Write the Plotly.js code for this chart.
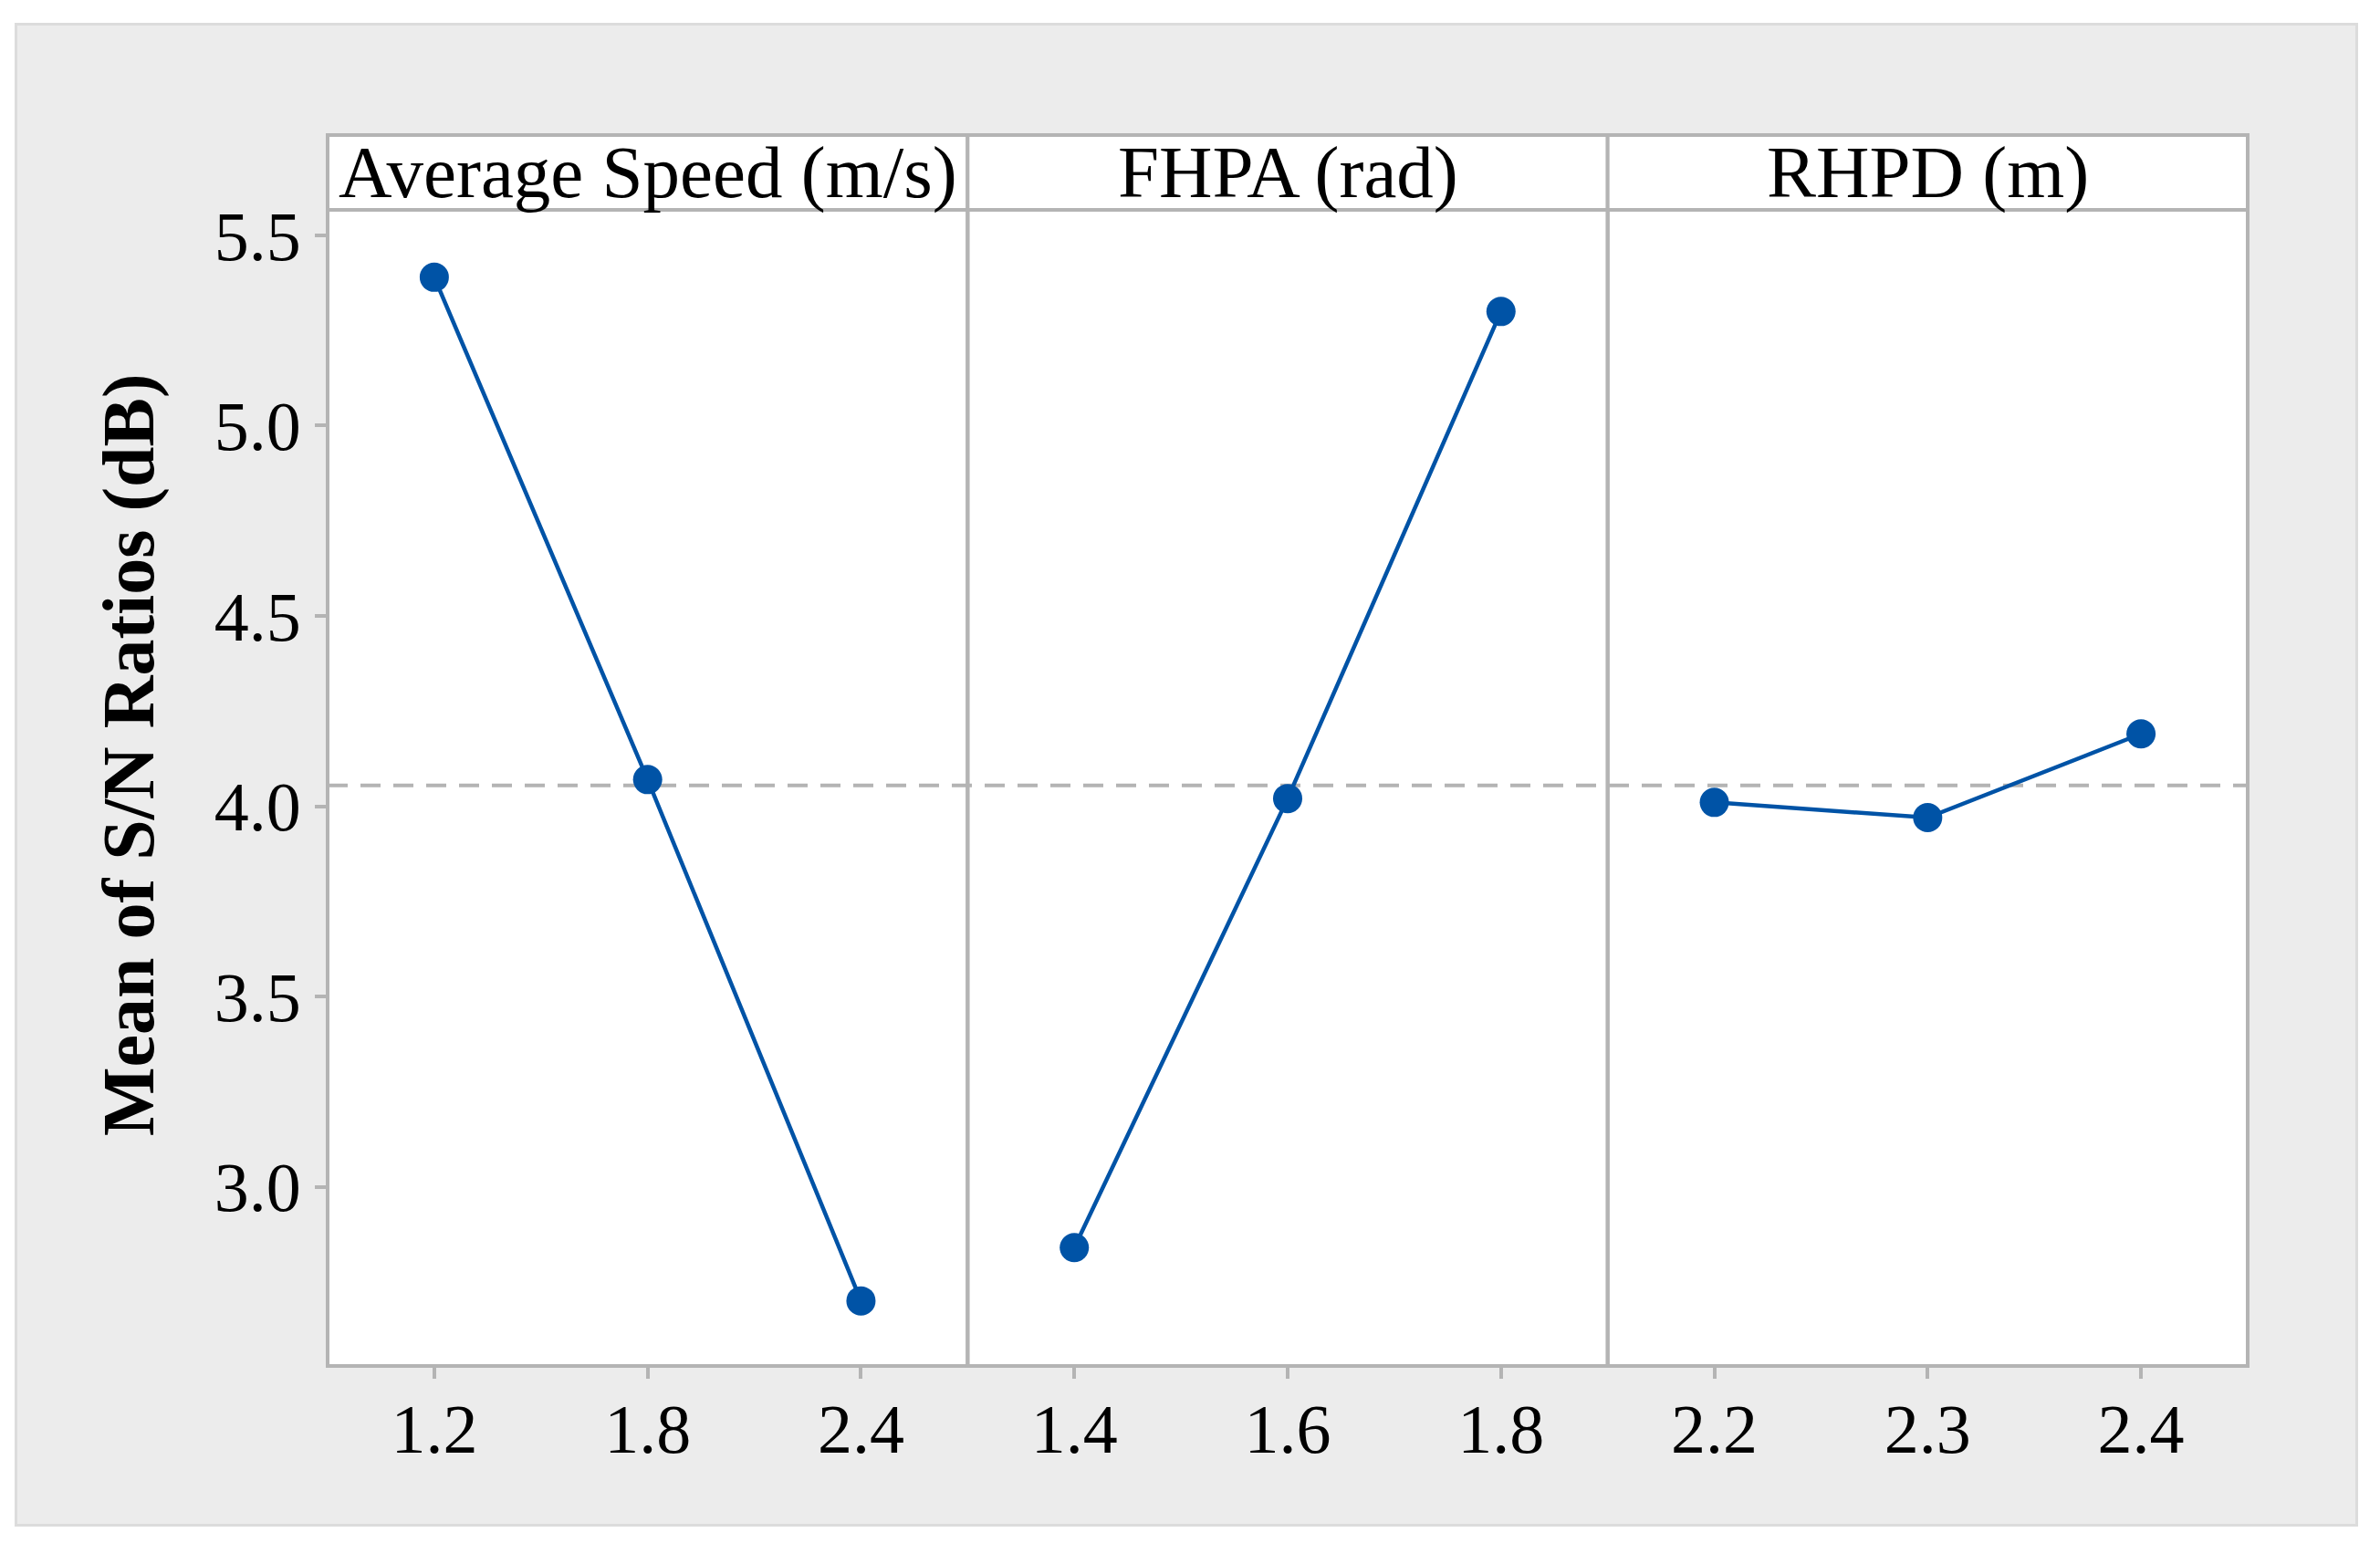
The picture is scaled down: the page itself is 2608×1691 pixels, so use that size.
<!DOCTYPE html>
<html>
<head>
<meta charset="utf-8">
<script src="https://cdn.plot.ly/plotly-3.0.1.min.js"></script>
<style>html,body{margin:0;padding:0;background:#ffffff;}</style>
</head>
<body>
<div id="chart" style="width:2608px;height:1691px;"></div>
<script>
// ---- data ----
const factorNames = ['Average Speed (m/s)', 'FHPA (rad)', 'RHPD (m)'];
const speedLevels = ['1.2', '1.8', '2.4'];
const speedSN = [5.39, 4.07, 2.70];
const fhpaLevels = ['1.4', '1.6', '1.8'];
const fhpaSN = [2.84, 4.02, 5.30];
const rhpdLevels = ['2.2', '2.3', '2.4'];
const rhpdSN = [4.01, 3.97, 4.19];
const yTickVals = [3.0, 3.5, 4.0, 4.5, 5.0, 5.5];
const yTickText = ['3.0', '3.5', '4.0', '4.5', '5.0', '5.5'];
const yAxisTitle = 'Mean of S/N Ratios (dB)';

// ---- styling / geometry ----
const W = 2608, H = 1691;
const M = {l: 359, r: 145, t: 148, b: 194};
const plotW = W - M.l - M.r, plotH = H - M.t - M.b;
const px2x = p => (p - M.l) / plotW;
const py2y = p => (H - M.b - p) / plotH;
const headerTop = 1.0;
const dataTop = py2y(230);
const FONT = '"Liberation Serif", "Times New Roman", serif';
const BLUE = '#0053a6';
const GRAY = '#b4b4b4';

const allVals = speedSN.concat(fhpaSN, rhpdSN);
const grandMean = allVals.reduce((a, b) => a + b, 0) / allVals.length;

const series = [[speedLevels, speedSN], [fhpaLevels, fhpaSN], [rhpdLevels, rhpdSN]];
const axisIds = ['x', 'x2', 'x3'];

const traces = series.map((s, i) => ({
  type: 'scatter', mode: 'lines+markers',
  x: s[0], y: s[1],
  xaxis: axisIds[i], yaxis: 'y',
  line: {color: BLUE, width: 4.5},
  marker: {color: BLUE, size: 32, line: {width: 0}},
  hoverinfo: 'x+y'
}));

function xAxis(i) {
  return {
    domain: [i / 3, (i + 1) / 3], anchor: 'y', type: 'category',
    range: [-0.5, 2.5], showgrid: false, zeroline: false, showline: false,
    ticks: 'outside', ticklen: 13, tickwidth: 4, tickcolor: GRAY,
    ticklabelstandoff: -10,
    tickfont: {family: FONT, size: 76, color: '#000'}, fixedrange: true
  };
}

const shapes = [
  // white outer margin
  {type: 'rect', xref: 'paper', yref: 'paper', x0: px2x(-9), x1: px2x(2609), y0: py2y(1698), y1: py2y(0),
   line: {color: '#ffffff', width: 50}, fillcolor: 'rgba(0,0,0,0)', layer: 'below'},
  // light frame
  {type: 'rect', xref: 'paper', yref: 'paper', x0: px2x(17.5), x1: px2x(2582.5), y0: py2y(1671.5), y1: py2y(26.5),
   line: {color: '#dcdcdc', width: 3}, fillcolor: 'rgba(0,0,0,0)', layer: 'below'},
  // mean reference line
  {type: 'line', xref: 'paper', yref: 'y', x0: 0, x1: 1, y0: grandMean, y1: grandMean,
   line: {color: GRAY, width: 4, dash: '22px,14px'}, layer: 'below'}
];
for (let i = 0; i < 3; i++) {
  shapes.push({type: 'rect', xref: 'paper', yref: 'paper', x0: i / 3, x1: (i + 1) / 3, y0: 0, y1: dataTop,
    line: {color: GRAY, width: 4}, fillcolor: 'rgba(0,0,0,0)', layer: 'above'});
  shapes.push({type: 'rect', xref: 'paper', yref: 'paper', x0: i / 3, x1: (i + 1) / 3, y0: dataTop, y1: headerTop,
    line: {color: GRAY, width: 4}, fillcolor: '#ffffff', layer: 'above'});
}

const annotations = factorNames.map((name, i) => ({
  text: name, xref: 'paper', yref: 'paper', x: (i + 0.5) / 3, y: (dataTop + headerTop) / 2,
  xanchor: 'center', yanchor: 'middle', showarrow: false,
  font: {family: FONT, size: 81, color: '#000'}
}));
annotations.push({
  text: '<b>' + yAxisTitle + '</b>', xref: 'paper', yref: 'paper', x: px2x(141), y: py2y(827),
  xanchor: 'center', yanchor: 'middle', textangle: -90, showarrow: false,
  font: {family: FONT, size: 80, color: '#000'}
});

const layout = {
  width: W, height: H, margin: M,
  paper_bgcolor: '#ececec', plot_bgcolor: '#ffffff',
  showlegend: false,
  xaxis: xAxis(0), xaxis2: xAxis(1), xaxis3: xAxis(2),
  yaxis: {
    domain: [0, dataTop], anchor: 'x', range: [2.529, 5.567],
    tickvals: yTickVals, ticktext: yTickText,
    showgrid: false, zeroline: false, showline: false,
    ticks: 'outside', ticklen: 13, tickwidth: 4, tickcolor: GRAY,
    tickfont: {family: FONT, size: 76, color: '#000'}, fixedrange: true
  },
  shapes: shapes,
  annotations: annotations
};

Plotly.newPlot('chart', traces, layout, {displayModeBar: false, staticPlot: true});
</script>
</body>
</html>
